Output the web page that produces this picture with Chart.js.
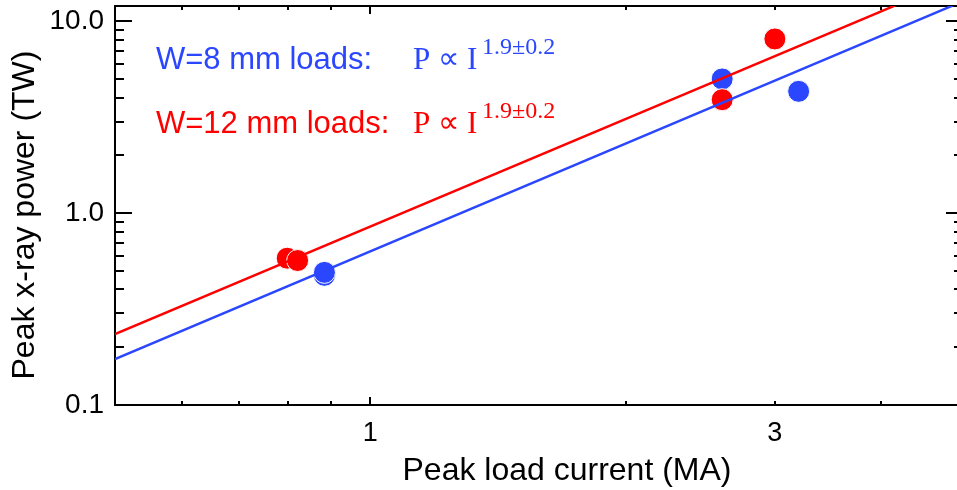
<!DOCTYPE html>
<html><head><meta charset="utf-8">
<script src="https://cdn.jsdelivr.net/npm/chart.js@4"></script>
<style>
html,body{margin:0;padding:0;overflow:hidden;background:#fff;width:957px;height:490px}
#wrap{position:relative;width:968px;height:490px}
</style></head><body>
<div id="wrap"><canvas id="c" width="968" height="490"></canvas></div>
<script>
// ---- tick values / labels ----
const xTickValues = [1, 3];
const xTickLabels = ['1', '3'];
const yTickValues = [0.1, 1, 10];
const yTickLabels = ['0.1', '1.0', '10.0'];
const xMinorTicks = [0.6, 0.7, 0.8, 0.9, 2, 3, 4];
const xMajorTicks = [1];
const yMinorTicks = [0.2, 0.3, 0.4, 0.5, 0.6, 0.7, 0.8, 0.9, 2, 3, 4, 5, 6, 7, 8, 9];
const yMajorTicks = [0.1, 1, 10];

// ---- data: W=8 mm loads (blue) ----
const w8Current = [0.883, 0.883, 2.60, 3.20];
const w8Power   = [0.474, 0.491, 5.00, 4.31];
// ---- data: W=12 mm loads (red) ----
const w12Current = [0.798, 0.821, 2.60, 3.00];
const w12Power   = [0.582, 0.566, 3.90, 8.08];
// ---- fitted power laws ----
const w8FitCurrent  = [0.5, 4.86];
const w8FitPower    = [0.1733, 12.05];
const w12FitCurrent = [0.5, 4.155];
const w12FitPower   = [0.2339, 12.05];

const BLUE = '#2a46ff';
const RED = '#ff0000';
const SANS = '"Liberation Sans", Arial, sans-serif';
const SERIF = '"Liberation Serif", "Times New Roman", "DejaVu Serif", serif';

const pts = (xs, ys) => xs.map((x, i) => ({x: x, y: ys[i]}));

const inTicks = {
  id: 'inTicks',
  afterDraw(chart) {
    const ctx = chart.ctx, a = chart.chartArea;
    const xs = chart.scales.x, ys = chart.scales.y;
    ctx.save();
    ctx.strokeStyle = '#000';
    ctx.lineWidth = 2;
    xMinorTicks.concat(xMajorTicks).forEach(v => {
      const p = Math.round(xs.getPixelForValue(v));
      const L = xMajorTicks.includes(v) ? 8 : 4;
      ctx.beginPath();
      ctx.moveTo(p, a.bottom); ctx.lineTo(p, a.bottom - L);
      ctx.moveTo(p, a.top); ctx.lineTo(p, a.top + L);
      ctx.stroke();
    });
    yMinorTicks.concat(yMajorTicks).forEach(v => {
      const p = Math.round(ys.getPixelForValue(v));
      const L = yMajorTicks.includes(v) ? 17 : 9;
      ctx.beginPath();
      ctx.moveTo(a.left, p); ctx.lineTo(a.left + L, p);
      ctx.moveTo(a.right, p); ctx.lineTo(a.right - L, p);
      ctx.stroke();
    });
    ctx.restore();
  }
};

const texts = {
  id: 'texts',
  afterDraw(chart) {
    const ctx = chart.ctx;
    ctx.save();
    ctx.textBaseline = 'alphabetic';
    ctx.textAlign = 'left';
    const rows = [
      {label: 'W=8 mm loads:', color: BLUE, base: 69},
      {label: 'W=12 mm loads:', color: RED, base: 133}
    ];
    rows.forEach(r => {
      ctx.fillStyle = r.color;
      ctx.font = '31px ' + SANS;
      ctx.fillText(r.label, 156, r.base);
      ctx.font = '31px ' + SERIF;
      ctx.fillText('P', 413, r.base);
      ctx.fillText('I', 467, r.base);
      ctx.font = '30px "DejaVu Sans", sans-serif';
      ctx.fillText('\u221D', 438, r.base - 1);
      ctx.font = '24px ' + SERIF;
      ctx.fillText('1.9\u00B10.2', 482, r.base - 15.5);
    });
    // x-axis title
    ctx.fillStyle = '#000';
    ctx.font = '32px ' + SANS;
    ctx.textAlign = 'center';
    ctx.fillText('Peak load current (MA)', 567, 480);
    // y-axis title
    ctx.translate(34, 215);
    ctx.rotate(-Math.PI / 2);
    ctx.fillText('Peak x-ray power (TW)', 0, 0);
    ctx.restore();
  }
};

const noPadX = s => { s.paddingLeft = 0; s.paddingRight = 0; };
const noPadY = s => { s.paddingTop = 0; s.paddingBottom = 0; };

new Chart(document.getElementById('c'), {
  type: 'scatter',
  data: {
    datasets: [
      {type: 'line', data: pts(w12FitCurrent, w12FitPower), borderColor: RED, borderWidth: 2.5,
       pointRadius: 0, fill: false, order: 1, clip: 0},
      {type: 'line', data: pts(w8FitCurrent, w8FitPower), borderColor: BLUE, borderWidth: 2.5,
       pointRadius: 0, fill: false, order: 2, clip: 0},
      {data: pts(w12Current, w12Power), backgroundColor: RED, borderColor: '#ffffff', borderWidth: 1,
       pointRadius: 11, order: 3},
      {data: pts(w8Current, w8Power), backgroundColor: BLUE, borderColor: '#ffffff', borderWidth: 1,
       pointRadius: 11, order: 4}
    ]
  },
  options: {
    responsive: false,
    animation: false,
    devicePixelRatio: 1,
    layout: {autoPadding: false, padding: {top: 6, right: 5, bottom: 0, left: 0}},
    plugins: {legend: {display: false}, tooltip: {enabled: false}},
    scales: {
      x: {
        type: 'logarithmic', position: 'bottom', min: 0.5, max: 5,
        grid: {display: false, drawTicks: false},
        border: {display: true, color: '#000', width: 2},
        afterBuildTicks: s => { s.ticks = xTickValues.map(v => ({value: v})); },
        afterFit: s => { s.height = 85; noPadX(s); },
        ticks: {
          autoSkip: false, maxRotation: 0, color: '#000', padding: 12,
          font: {family: SANS, size: 27},
          callback: v => { const i = xTickValues.indexOf(v); return i >= 0 ? xTickLabels[i] : ''; }
        },
        title: {display: false}
      },
      y: {
        type: 'logarithmic', position: 'left', min: 0.1, max: 12,
        grid: {display: false, drawTicks: false},
        border: {display: true, color: '#000', width: 2},
        afterBuildTicks: s => { s.ticks = yTickValues.map(v => ({value: v})); },
        afterFit: s => { s.width = 115; noPadY(s); },
        ticks: {
          autoSkip: false, color: '#000', padding: 11,
          font: {family: SANS, size: 28},
          callback: v => { const i = yTickValues.indexOf(v); return i >= 0 ? yTickLabels[i] : ''; }
        },
        title: {display: false}
      },
      x2: {
        type: 'logarithmic', position: 'top', axis: 'x', min: 0.5, max: 5,
        grid: {display: false, drawTicks: false}, ticks: {display: false},
        border: {display: true, color: '#000', width: 2},
        afterFit: s => { s.height = 0; noPadX(s); }
      },
      y2: {
        type: 'logarithmic', position: 'right', axis: 'y', min: 0.1, max: 12,
        grid: {display: false, drawTicks: false}, ticks: {display: false},
        border: {display: true, color: '#000', width: 2},
        afterFit: s => { s.width = 0; noPadY(s); }
      }
    }
  },
  plugins: [inTicks, texts]
});
</script>
</body></html>
